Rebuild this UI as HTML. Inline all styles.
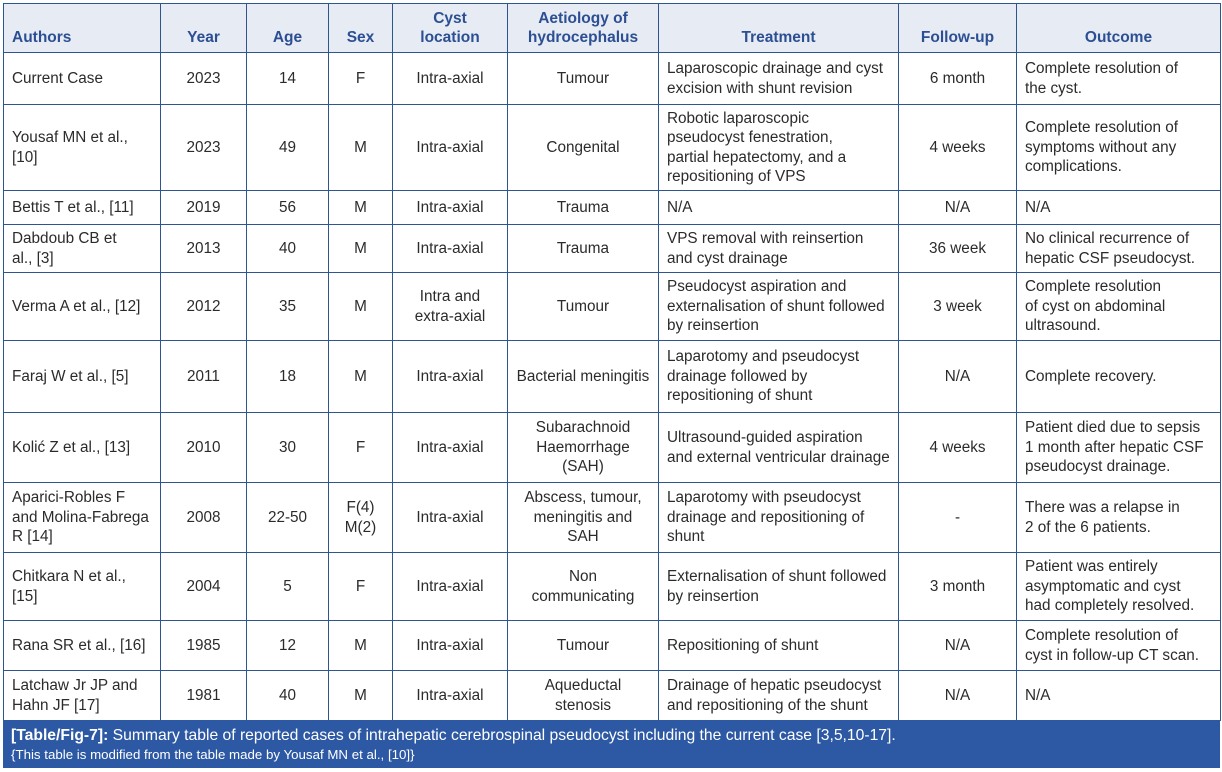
<!DOCTYPE html>
<html><head><meta charset="utf-8"><style>
body{margin:0;width:1222px;height:772px;background:#fff;overflow:hidden;font-family:"Liberation Sans",sans-serif;}
table{position:absolute;left:3px;top:3px;border-collapse:collapse;table-layout:fixed;width:1217px;}
td,th{border:1.5px solid #2f5590;font-size:15.3px;line-height:19.5px;color:#2b2b2b;padding:0 8px;vertical-align:middle;text-align:center;white-space:nowrap;overflow:hidden;}
th{background:#e7ebf3;color:#2c4f93;font-weight:bold;vertical-align:bottom;padding-bottom:5px;line-height:19px;font-size:15.5px;}
td.l,th.l{text-align:left;}
.cap{position:absolute;left:3px;top:720px;width:1217px;height:48px;background:#2d58a3;color:#fff;box-sizing:border-box;padding:6px 8px;font-size:15.7px;line-height:19px;}
.cap small{font-size:13.3px;}
</style></head><body>
<table>
<colgroup><col style="width:157px"><col style="width:86px"><col style="width:82px"><col style="width:64px"><col style="width:115px"><col style="width:151px"><col style="width:240px"><col style="width:118px"><col style="width:204px"></colgroup>
<tr style="height:49px"><th class="l">Authors</th><th>Year</th><th>Age</th><th>Sex</th><th>Cyst<br>location</th><th>Aetiology of<br>hydrocephalus</th><th>Treatment</th><th>Follow-up</th><th>Outcome</th></tr>
<tr style="height:52px"><td class="l">Current Case</td><td>2023</td><td>14</td><td>F</td><td>Intra-axial</td><td>Tumour</td><td class="l">Laparoscopic drainage and cyst<br>excision with shunt revision</td><td>6 month</td><td class="l">Complete resolution of<br>the cyst.</td></tr>
<tr style="height:86px"><td class="l">Yousaf MN et al.,<br>[10]</td><td>2023</td><td>49</td><td>M</td><td>Intra-axial</td><td>Congenital</td><td class="l">Robotic laparoscopic<br>pseudocyst fenestration,<br>partial hepatectomy, and a<br>repositioning of VPS</td><td>4 weeks</td><td class="l">Complete resolution of<br>symptoms without any<br>complications.</td></tr>
<tr style="height:34px"><td class="l">Bettis T et al., [11]</td><td>2019</td><td>56</td><td>M</td><td>Intra-axial</td><td>Trauma</td><td class="l">N/A</td><td>N/A</td><td class="l">N/A</td></tr>
<tr style="height:48px"><td class="l">Dabdoub CB et<br>al., [3]</td><td>2013</td><td>40</td><td>M</td><td>Intra-axial</td><td>Trauma</td><td class="l">VPS removal with reinsertion<br>and cyst drainage</td><td>36 week</td><td class="l">No clinical recurrence of<br>hepatic CSF pseudocyst.</td></tr>
<tr style="height:68px"><td class="l">Verma A et al., [12]</td><td>2012</td><td>35</td><td>M</td><td>Intra and<br>extra-axial</td><td>Tumour</td><td class="l">Pseudocyst aspiration and<br>externalisation of shunt followed<br>by reinsertion</td><td>3 week</td><td class="l">Complete resolution<br>of cyst on abdominal<br>ultrasound.</td></tr>
<tr style="height:72px"><td class="l">Faraj W et al., [5]</td><td>2011</td><td>18</td><td>M</td><td>Intra-axial</td><td>Bacterial meningitis</td><td class="l">Laparotomy and pseudocyst<br>drainage followed by<br>repositioning of shunt</td><td>N/A</td><td class="l">Complete recovery.</td></tr>
<tr style="height:70px"><td class="l">Kolić Z et al., [13]</td><td>2010</td><td>30</td><td>F</td><td>Intra-axial</td><td>Subarachnoid<br>Haemorrhage<br>(SAH)</td><td class="l">Ultrasound-guided aspiration<br>and external ventricular drainage</td><td>4 weeks</td><td class="l">Patient died due to sepsis<br>1 month after hepatic CSF<br>pseudocyst drainage.</td></tr>
<tr style="height:70px"><td class="l">Aparici-Robles F<br>and Molina-Fabrega<br>R [14]</td><td>2008</td><td>22-50</td><td>F(4)<br>M(2)</td><td>Intra-axial</td><td>Abscess, tumour,<br>meningitis and<br>SAH</td><td class="l">Laparotomy with pseudocyst<br>drainage and repositioning of<br>shunt</td><td>-</td><td class="l">There was a relapse in<br>2 of the 6 patients.</td></tr>
<tr style="height:68px"><td class="l">Chitkara N et al.,<br>[15]</td><td>2004</td><td>5</td><td>F</td><td>Intra-axial</td><td>Non<br>communicating</td><td class="l">Externalisation of shunt followed<br>by reinsertion</td><td>3 month</td><td class="l">Patient was entirely<br>asymptomatic and cyst<br>had completely resolved.</td></tr>
<tr style="height:50px"><td class="l">Rana SR et al., [16]</td><td>1985</td><td>12</td><td>M</td><td>Intra-axial</td><td>Tumour</td><td class="l">Repositioning of shunt</td><td>N/A</td><td class="l">Complete resolution of<br>cyst in follow-up CT scan.</td></tr>
<tr style="height:50px"><td class="l">Latchaw Jr JP and<br>Hahn JF [17]</td><td>1981</td><td>40</td><td>M</td><td>Intra-axial</td><td>Aqueductal<br>stenosis</td><td class="l">Drainage of hepatic pseudocyst<br>and repositioning of the shunt</td><td>N/A</td><td class="l">N/A</td></tr>
</table>
<div class="cap"><b>[Table/Fig-7]:</b> Summary table of reported cases of intrahepatic cerebrospinal pseudocyst including the current case [3,5,10-17].<br><small>{This table is modified from the table made by Yousaf MN et al., [10]}</small></div>
</body></html>
